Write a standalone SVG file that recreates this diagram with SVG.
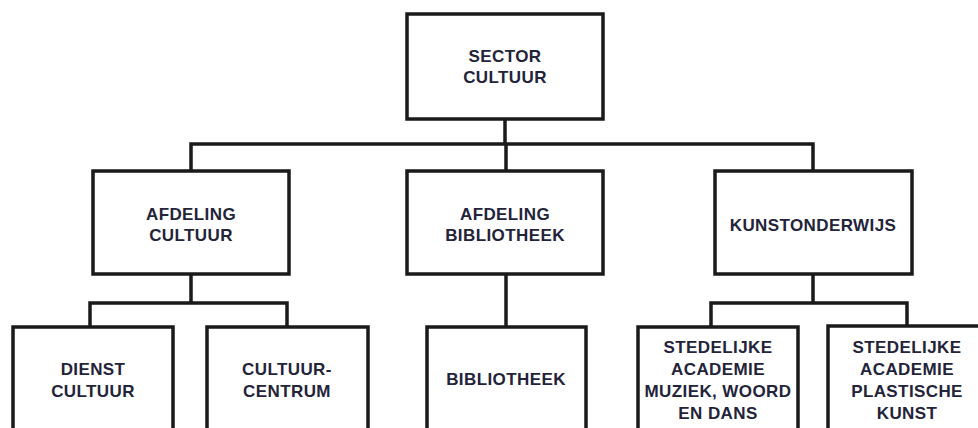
<svg xmlns="http://www.w3.org/2000/svg" width="978" height="428" viewBox="0 0 978 428">
  <style>
    .box { fill: #ffffff; stroke: #1a1a1a; stroke-width: 3.5; }
    .link { fill: none; stroke: #1a1a1a; stroke-width: 3.5; stroke-linecap: square; }
    .label { font-family: "Liberation Sans", Arial, sans-serif; font-weight: bold; font-size: 17px; letter-spacing: 0.4px; fill: #23233a; text-anchor: middle; }
  </style>
  <rect width="978" height="428" fill="#ffffff"/>

  <!-- connectors -->
  <g id="connectors">
    <path class="link" d="M505,119 V144 M191,144 H813 M191,144 V171 M506,144 V171 M813,144 V171"/>
    <path class="link" d="M191,274 V303 M90,303 H287 M90,303 V327 M287,303 V327"/>
    <path class="link" d="M506,274 V327"/>
    <path class="link" d="M813,274 V303 M711,303 H907 M711,303 V327 M907,303 V327"/>
  </g>

  <!-- level 0 -->
  <g id="sector-cultuur">
    <rect class="box" x="407" y="14" width="196" height="105"/>
    <text class="label" x="505" y="62">SECTOR</text>
    <text class="label" x="505" y="83">CULTUUR</text>
  </g>

  <!-- level 1 -->
  <g id="afdeling-cultuur">
    <rect class="box" x="93" y="171" width="196" height="103"/>
    <text class="label" x="191" y="220">AFDELING</text>
    <text class="label" x="191" y="241">CULTUUR</text>
  </g>
  <g id="afdeling-bibliotheek">
    <rect class="box" x="407" y="171" width="196" height="103"/>
    <text class="label" x="505" y="220">AFDELING</text>
    <text class="label" x="505" y="241">BIBLIOTHEEK</text>
  </g>
  <g id="kunstonderwijs">
    <rect class="box" x="715" y="171" width="197" height="103"/>
    <text class="label" x="813" y="230.5">KUNSTONDERWIJS</text>
  </g>

  <!-- level 2 -->
  <g id="dienst-cultuur">
    <rect class="box" x="13" y="327" width="160" height="120"/>
    <text class="label" x="93" y="375">DIENST</text>
    <text class="label" x="93" y="396.5">CULTUUR</text>
  </g>
  <g id="cultuurcentrum">
    <rect class="box" x="207" y="327" width="161" height="120"/>
    <text class="label" x="287" y="375">CULTUUR-</text>
    <text class="label" x="287" y="396.5">CENTRUM</text>
  </g>
  <g id="bibliotheek">
    <rect class="box" x="427" y="327" width="159" height="120"/>
    <text class="label" x="506" y="385">BIBLIOTHEEK</text>
  </g>
  <g id="academie-muziek-woord-dans">
    <rect class="box" x="638" y="327" width="160" height="120"/>
    <text class="label" x="718" y="353">STEDELIJKE</text>
    <text class="label" x="718" y="375">ACADEMIE</text>
    <text class="label" x="718" y="397">MUZIEK, WOORD</text>
    <text class="label" x="718" y="419">EN DANS</text>
  </g>
  <g id="academie-plastische-kunst">
    <rect class="box" x="828" y="326" width="160" height="121"/>
    <text class="label" x="907" y="353">STEDELIJKE</text>
    <text class="label" x="907" y="375">ACADEMIE</text>
    <text class="label" x="907" y="397">PLASTISCHE</text>
    <text class="label" x="907" y="419">KUNST</text>
  </g>
</svg>
